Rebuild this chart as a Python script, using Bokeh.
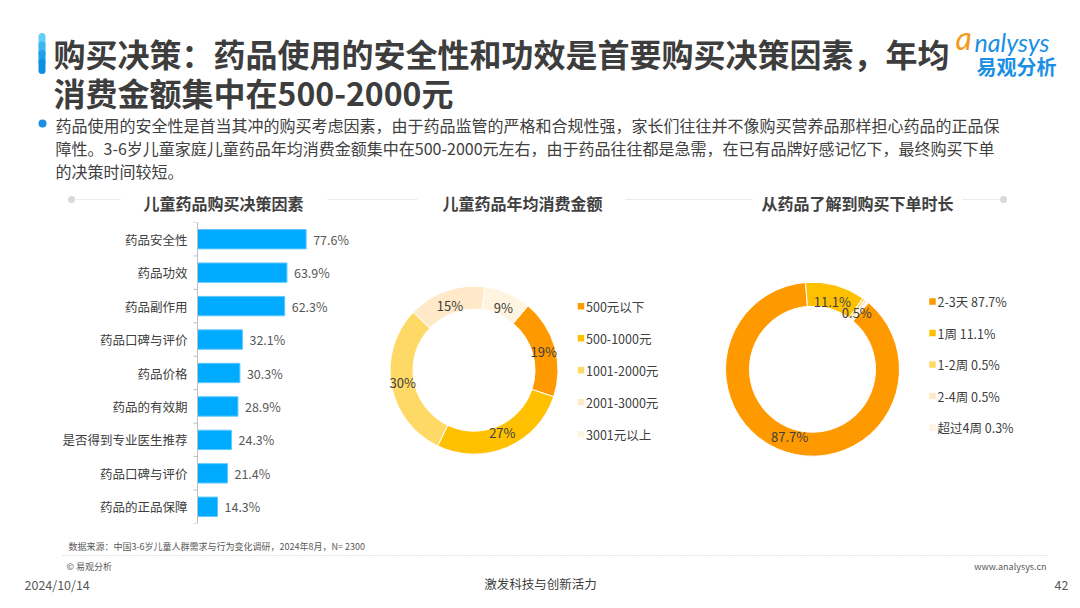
import math
from bokeh.plotting import figure
from bokeh.layouts import column, row
from bokeh.models import Range1d, ColumnDataSource, FixedTicker, Span
from bokeh.core.properties import value
from bokeh.embed import file_html
from bokeh.resources import INLINE

# ---------------- data ----------------
title_lines = ["购买决策：药品使用的安全性和功效是首要购买决策因素，年均",
               "消费金额集中在500-2000元"]
para_lines = ["药品使用的安全性是首当其冲的购买考虑因素，由于药品监管的严格和合规性强，家长们往往并不像购买营养品那样担心药品的正品保",
              "障性。3-6岁儿童家庭儿童药品年均消费金额集中在500-2000元左右，由于药品往往都是急需，在已有品牌好感记忆下，最终购买下单",
              "的决策时间较短。"]
section_titles = ["儿童药品购买决策因素", "儿童药品年均消费金额", "从药品了解到购买下单时长"]

factor_labels = ["药品安全性", "药品功效", "药品副作用", "药品口碑与评价", "药品价格",
                 "药品的有效期", "是否得到专业医生推荐", "药品口碑与评价", "药品的正品保障"]
factor_values = [77.6, 63.9, 62.3, 32.1, 30.3, 28.9, 24.3, 21.4, 14.3]

amount_labels = ["500元以下", "500-1000元", "1001-2000元", "2001-3000元", "3001元以上"]
amount_values = [19, 27, 30, 15, 9]

duration_labels = ["2-3天", "1周", "1-2周", "2-4周", "超过4周"]
duration_values = [87.7, 11.1, 0.5, 0.5, 0.3]
duration_shown = [True, True, True, False, False]

source_note = "数据来源：中国3-6岁儿童人群需求与行为变化调研，2024年8月，N= 2300"
footer_left = "2024/10/14"
footer_mid = "激发科技与创新活力"
footer_right = "42"

# ---------------- style ----------------
FONT = "Noto Sans CJK SC"
DARK = "#404040"
MID = "#595959"
BLUE = "#1a8fe3"
PALETTE = ["#ff9900", "#ffc000", "#ffd966", "#ffe9c8", "#fff4df"]
START_DEG = 40.0


def base_fig(w, h, x0, x1, y0, y1):
    p = figure(width=w, height=h, x_range=Range1d(x0, x1), y_range=Range1d(y0, y1),
               output_backend="svg", toolbar_location=None,
               x_axis_location=None, y_axis_location=None,
               min_border_left=0, min_border_right=0, min_border_top=0, min_border_bottom=0)
    p.outline_line_color = None
    p.grid.grid_line_color = None
    p.background_fill_color = "white"
    p.border_fill_color = "white"
    return p


def txt(p, x, y, s, size, color=DARK, bold=False, align="left", font=FONT, italic=False):
    style = "bold" if bold else "normal"
    if italic:
        style = "bold italic" if bold else "italic"
    p.text(x=[x], y=[y], text=[s], text_font=value(font), text_font_size=f"{size}px",
           text_color=color, text_font_style=style, text_align=align, text_baseline="middle")


# ---------------- header ----------------
hdr = base_fig(1080, 215, 0, 1080, -215, 0)
# title accent bar (gradient approximated)
bar_cols = ["#62cdf7", "#3cb6f1", "#1fa1ea", "#0e90e2"]
for i, c in enumerate(bar_cols):
    y0 = -36 - i * 8.5
    hdr.segment(x0=[41.5], y0=[y0], x1=[41.5], y1=[y0 - 8.5], line_color=c, line_width=7,
                line_cap="round")
txt(hdr, 53, -52, title_lines[0], 32, color="#3d3d3d", bold=True)
txt(hdr, 53, -91, title_lines[1], 32, color="#3d3d3d", bold=True)

# logo
txt(hdr, 955, -37, "a", 32, color="#f39a1e", italic=True, font="Lato")
txt(hdr, 974, -41, "nalysys", 25, color=BLUE, italic=True, font="Lato")
txt(hdr, 1016, -66, "易观分析", 20, color=BLUE, bold=True, align="center")

# paragraph
hdr.scatter(x=[42], y=[-123], size=8, marker="circle", fill_color="#1a8fe3", line_color=None)
for i, line in enumerate(para_lines):
    txt(hdr, 55, -124 - i * 23, line, 16, color=DARK)

# section divider
for (a, b) in [(75, 120), (327, 417), (625, 752), (962, 1000)]:
    hdr.segment(x0=[a], y0=[-199], x1=[b], y1=[-199], line_color="#ebebeb", line_width=1)
hdr.scatter(x=[71, 1003], y=[-199, -199], size=7, fill_color="#d9d9d9", line_color=None)
for cx, t in zip([223, 522, 857], section_titles):
    txt(hdr, cx, -202, t, 16, color=DARK, bold=True, align="center")

# ---------------- bar chart ----------------
PX_PER = 1.4
bar = figure(width=380, height=320, x_range=Range1d(-5, -5 + 180 / PX_PER),
             y_range=Range1d(len(factor_labels) + 0.5, 0.5),
             output_backend="svg", toolbar_location=None, x_axis_location=None,
             min_border_left=190, min_border_right=10, min_border_top=7, min_border_bottom=12)
bar.outline_line_color = None
bar.grid.grid_line_color = None
bar.background_fill_color = "white"
bar.border_fill_color = "white"

ys = list(range(1, len(factor_labels) + 1))
bsrc = ColumnDataSource(dict(y=ys, v=factor_values, lbl=[f"{v:.1f}%" for v in factor_values]))
bar.hbar(y="y", left=0, right="v", height=0.58, fill_color="#00aaff", line_color="#61c9ff",
         line_width=1, source=bsrc)
bar.text(x="v", y="y", text="lbl", x_offset=7, text_baseline="middle", text_align="left",
         text_font=value(FONT), text_font_size="12.5px", text_color=MID, source=bsrc)
bar.add_layout(Span(location=0, dimension="height", line_color="#bfbfbf", line_width=1))
bounds = [y + 0.5 for y in [0] + ys]
bar.segment(x0=[-2.9] * len(bounds), y0=bounds, x1=[0] * len(bounds), y1=bounds,
            line_color="#bfbfbf", line_width=1)

ax = bar.yaxis[0]
ax.ticker = FixedTicker(ticks=ys)
ax.major_label_overrides = {y: lab for y, lab in zip(ys, factor_labels)}
ax.axis_line_color = None
ax.major_tick_line_color = None
ax.minor_tick_line_color = None
ax.major_tick_out = 0
ax.major_tick_in = 0
ax.minor_tick_out = 0
ax.major_label_standoff = 3
ax.major_label_text_font = FONT
ax.major_label_text_font_size = "12.5px"
ax.major_label_text_color = DARK


# ---------------- donuts ----------------
def donut(p, cx, cy, ri, ro, vals, labels_on_ring, legend_text, lx, ly0, ldy):
    total = sum(vals)
    s_ang, e_ang, lx_, ly_ = [], [], [], []
    cum = 0.0
    rm = (ri + ro) / 2
    for v in vals:
        a0 = START_DEG + cum / total * 360
        cum += v
        a1 = START_DEG + cum / total * 360
        s_ang.append(math.radians(90 - a0))
        e_ang.append(math.radians(90 - a1))
        am = math.radians((a0 + a1) / 2)
        lx_.append(cx + rm * math.sin(am))
        ly_.append(cy + rm * math.cos(am))
    src = ColumnDataSource(dict(s=s_ang, e=e_ang, c=PALETTE[:len(vals)], lx=lx_, ly=ly_,
                                t=labels_on_ring))
    p.annular_wedge(x=cx, y=cy, inner_radius=ri, outer_radius=ro, start_angle="s",
                    end_angle="e", direction="clock", fill_color="c", line_color="white",
                    line_width=1, source=src)
    p.text(x="lx", y="ly", text="t", text_align="center", text_baseline="middle",
           text_font=value(FONT), text_font_size="13px", text_color=DARK, source=src)
    lys = [ly0 - i * ldy for i in range(len(vals))]
    lsrc = ColumnDataSource(dict(x=[lx] * len(vals), y=lys, c=PALETTE[:len(vals)],
                                 t=legend_text))
    p.scatter(x="x", y="y", marker="square", size=6.5, fill_color="c", line_color=None,
              source=lsrc)
    p.text(x="x", y="y", text="t", x_offset=5, text_align="left", text_baseline="middle",
           text_font=value(FONT), text_font_size="12.5px", text_color=DARK, source=lsrc)


d1 = base_fig(320, 320, 380, 700, -535, -215)
donut(d1, 473.5, -372, 61, 84, amount_values, [f"{v}%" for v in amount_values],
      amount_labels, 580.5, -304, 34)

d2 = base_fig(380, 320, 700, 1080, -535, -215)
donut(d2, 812, -371, 63, 87, duration_values,
      [f"{v}%" if s else "" for v, s in zip(duration_values, duration_shown)],
      [f"{l}  {v}%" if i else f"{l} {v}%" for i, (l, v) in
       enumerate(zip(duration_labels, duration_values))],
      932, -299, 33.5)

# ---------------- footer ----------------
ftr = base_fig(1080, 73, 0, 1080, -608, -535)
txt(ftr, 68, -546, source_note, 9, color=MID)
ftr.segment(x0=[62], y0=[-555], x1=[1048], y1=[-555], line_color="#c8c8c8", line_width=1,
            line_dash="1 2")
txt(ftr, 66, -566, "© 易观分析", 9, color=MID)
txt(ftr, 1046, -566, "www.analysys.cn", 9, color=MID, align="right")
txt(ftr, 24, -584, footer_left, 12.5, color=MID)
txt(ftr, 540, -583, footer_mid, 12.5, color=DARK, align="center")
txt(ftr, 1068, -584, footer_right, 12.5, color=MID, align="right")

layout = column(hdr, row(bar, d1, d2, spacing=0), ftr, spacing=0)
open("out.html", "w").write(file_html(layout, INLINE))
